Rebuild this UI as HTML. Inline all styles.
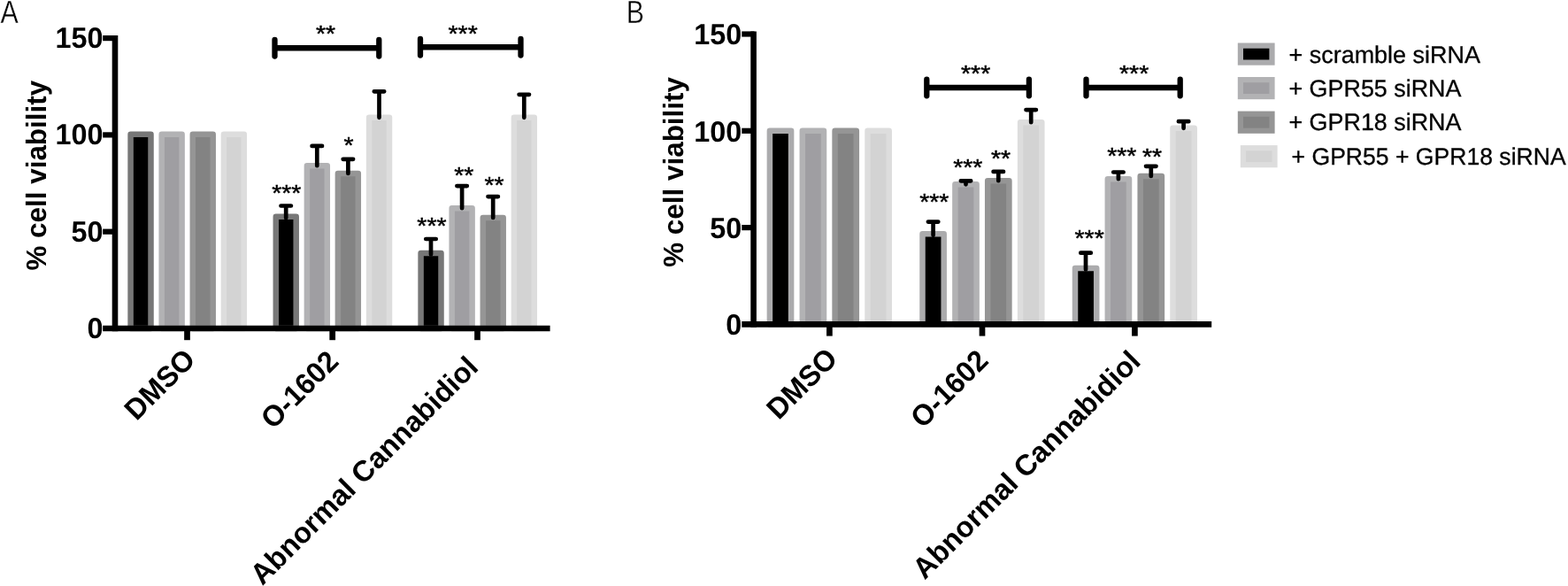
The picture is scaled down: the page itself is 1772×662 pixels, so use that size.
<!DOCTYPE html>
<html lang="en"><head><meta charset="utf-8"><title>Figure</title>
<style>html,body{margin:0;padding:0;background:#fff;}body{width:1772px;height:662px;overflow:hidden;}svg{display:block;}text{font-family:"Liberation Sans",Arial,Helvetica,sans-serif;fill:#000;text-rendering:geometricPrecision;}.b{font-weight:bold;}.s{stroke:#000;stroke-width:0.45px;}.l{stroke:#000;stroke-width:0.3px;}.p{stroke:#fff;stroke-width:0.4px;}</style>
</head><body>
<svg width="1772" height="662" viewBox="0 0 1772 662">
<rect width="1772" height="662" fill="#fff"/>
<g id="chartA">
<rect x="147.6" y="151.8" width="22.9" height="219.2" fill="#000000" stroke="#777777" stroke-width="6.5" stroke-linejoin="round"/>
<rect x="182.7" y="151.8" width="22.9" height="219.2" fill="#9f9ea2" stroke="#b2b2b4" stroke-width="6.5" stroke-linejoin="round"/>
<rect x="217.8" y="151.8" width="22.9" height="219.2" fill="#838383" stroke="#959595" stroke-width="6.5" stroke-linejoin="round"/>
<rect x="252.9" y="151.8" width="22.9" height="219.2" fill="#d3d3d3" stroke="#dddddd" stroke-width="6.5" stroke-linejoin="round"/>
<rect x="311.8" y="244.7" width="22.9" height="126.3" fill="#000000" stroke="#777777" stroke-width="6.5" stroke-linejoin="round"/>
<rect x="346.9" y="187.2" width="22.9" height="183.8" fill="#9f9ea2" stroke="#b2b2b4" stroke-width="6.5" stroke-linejoin="round"/>
<rect x="381.9" y="196.1" width="22.9" height="174.9" fill="#838383" stroke="#959595" stroke-width="6.5" stroke-linejoin="round"/>
<rect x="417.1" y="132.8" width="22.9" height="238.2" fill="#d3d3d3" stroke="#dddddd" stroke-width="6.5" stroke-linejoin="round"/>
<rect x="475.6" y="285.9" width="22.9" height="85.1" fill="#000000" stroke="#777777" stroke-width="6.5" stroke-linejoin="round"/>
<rect x="510.7" y="235.2" width="22.9" height="135.8" fill="#9f9ea2" stroke="#b2b2b4" stroke-width="6.5" stroke-linejoin="round"/>
<rect x="545.8" y="246.1" width="22.9" height="124.9" fill="#838383" stroke="#959595" stroke-width="6.5" stroke-linejoin="round"/>
<rect x="580.9" y="132.8" width="22.9" height="238.2" fill="#d3d3d3" stroke="#dddddd" stroke-width="6.5" stroke-linejoin="round"/>
<path d="M317.5 232.5H328.9M323.2 232.5V246.2" fill="none" stroke="#000" stroke-width="4.7" stroke-linecap="round"/>
<path d="M352.6 164.9H364.0M358.3 164.9V187.2" fill="none" stroke="#000" stroke-width="4.7" stroke-linecap="round"/>
<path d="M387.7 179.8H399.1M393.4 179.8V196.0" fill="none" stroke="#000" stroke-width="4.7" stroke-linecap="round"/>
<path d="M422.8 103.3H434.2M428.5 103.3V132.8" fill="none" stroke="#000" stroke-width="4.7" stroke-linecap="round"/>
<path d="M481.3 270.0H492.7M487.0 270.0V287.4" fill="none" stroke="#000" stroke-width="4.7" stroke-linecap="round"/>
<path d="M516.4 210.1H527.8M522.1 210.1V235.2" fill="none" stroke="#000" stroke-width="4.7" stroke-linecap="round"/>
<path d="M551.5 222.1H562.9M557.2 222.1V246.0" fill="none" stroke="#000" stroke-width="4.7" stroke-linecap="round"/>
<path d="M586.6 106.8H598.0M592.3 106.8V132.8" fill="none" stroke="#000" stroke-width="4.7" stroke-linecap="round"/>
<path d="M130.0 40.0V374.3" stroke="#000" stroke-width="6.6" fill="none"/>
<path d="M116.2 371.0H621.6" stroke="#000" stroke-width="6.6" fill="none"/>
<path d="M116.2 261.7H131.0" stroke="#000" stroke-width="6.2" fill="none"/>
<path d="M116.2 152.4H131.0" stroke="#000" stroke-width="6.2" fill="none"/>
<path d="M116.2 43.1H131.0" stroke="#000" stroke-width="6.2" fill="none"/>
<path d="M211.5 371.0V384.2" stroke="#000" stroke-width="6.7" fill="none"/>
<path d="M375.7 371.0V384.2" stroke="#000" stroke-width="6.7" fill="none"/>
<path d="M539.5 371.0V384.2" stroke="#000" stroke-width="6.7" fill="none"/>
<path d="M310.5 45.0V63.599999999999994M428.3 45.0V63.599999999999994" stroke="#000" stroke-width="6.3" stroke-linecap="round" fill="none"/><path d="M310.5 54.3H428.3" stroke="#000" stroke-width="6.5" fill="none"/>
<path d="M475.0 44.0V62.599999999999994M588.5 44.0V62.599999999999994" stroke="#000" stroke-width="6.3" stroke-linecap="round" fill="none"/><path d="M475.0 53.3H588.5" stroke="#000" stroke-width="6.5" fill="none"/>
</g>
<g id="chartB">
<rect x="869.9" y="147.8" width="24.2" height="218.6" fill="#000000" stroke="#ababad" stroke-width="6.5" stroke-linejoin="round"/>
<rect x="906.8" y="147.8" width="24.2" height="218.6" fill="#9f9ea2" stroke="#b2b2b4" stroke-width="6.5" stroke-linejoin="round"/>
<rect x="943.6" y="147.8" width="24.2" height="218.6" fill="#838383" stroke="#959595" stroke-width="6.5" stroke-linejoin="round"/>
<rect x="980.5" y="147.8" width="24.2" height="218.6" fill="#d3d3d3" stroke="#dddddd" stroke-width="6.5" stroke-linejoin="round"/>
<rect x="1042.5" y="264.2" width="24.2" height="102.1" fill="#000000" stroke="#ababad" stroke-width="6.5" stroke-linejoin="round"/>
<rect x="1079.4" y="208.3" width="24.2" height="158.0" fill="#9f9ea2" stroke="#b2b2b4" stroke-width="6.5" stroke-linejoin="round"/>
<rect x="1116.2" y="204.2" width="24.2" height="162.1" fill="#838383" stroke="#959595" stroke-width="6.5" stroke-linejoin="round"/>
<rect x="1153.1" y="138.2" width="24.2" height="228.1" fill="#d3d3d3" stroke="#dddddd" stroke-width="6.5" stroke-linejoin="round"/>
<rect x="1215.0" y="302.9" width="24.2" height="63.4" fill="#000000" stroke="#ababad" stroke-width="6.5" stroke-linejoin="round"/>
<rect x="1251.8" y="202.2" width="24.2" height="164.1" fill="#9f9ea2" stroke="#b2b2b4" stroke-width="6.5" stroke-linejoin="round"/>
<rect x="1288.7" y="198.9" width="24.2" height="167.4" fill="#838383" stroke="#959595" stroke-width="6.5" stroke-linejoin="round"/>
<rect x="1325.5" y="144.8" width="24.2" height="221.5" fill="#d3d3d3" stroke="#dddddd" stroke-width="6.5" stroke-linejoin="round"/>
<path d="M1048.9 250.6H1060.3M1054.6 250.6V265.8" fill="none" stroke="#000" stroke-width="4.7" stroke-linecap="round"/>
<path d="M1085.8 204.3H1097.2M1091.5 204.3V208.3" fill="none" stroke="#000" stroke-width="4.7" stroke-linecap="round"/>
<path d="M1122.6 193.9H1134.0M1128.3 193.9V204.2" fill="none" stroke="#000" stroke-width="4.7" stroke-linecap="round"/>
<path d="M1159.5 124.1H1170.9M1165.2 124.1V138.2" fill="none" stroke="#000" stroke-width="4.7" stroke-linecap="round"/>
<path d="M1221.3 285.7H1232.8M1227.0 285.7V304.5" fill="none" stroke="#000" stroke-width="4.7" stroke-linecap="round"/>
<path d="M1258.2 194.5H1269.6M1263.9 194.5V202.2" fill="none" stroke="#000" stroke-width="4.7" stroke-linecap="round"/>
<path d="M1295.0 187.8H1306.5M1300.8 187.8V198.9" fill="none" stroke="#000" stroke-width="4.7" stroke-linecap="round"/>
<path d="M1331.9 137.2H1343.3M1337.6 137.2V144.8" fill="none" stroke="#000" stroke-width="4.7" stroke-linecap="round"/>
<path d="M851.6 35.4V369.7" stroke="#000" stroke-width="6.6" fill="none"/>
<path d="M838.3 366.4H1369.2" stroke="#000" stroke-width="6.6" fill="none"/>
<path d="M838.3 257.1H852.6" stroke="#000" stroke-width="6.2" fill="none"/>
<path d="M838.3 147.8H852.6" stroke="#000" stroke-width="6.2" fill="none"/>
<path d="M838.3 38.5H852.6" stroke="#000" stroke-width="6.2" fill="none"/>
<path d="M937.4 366.4V379.6" stroke="#000" stroke-width="6.7" fill="none"/>
<path d="M1110.0 366.4V379.6" stroke="#000" stroke-width="6.7" fill="none"/>
<path d="M1282.4 366.4V379.6" stroke="#000" stroke-width="6.7" fill="none"/>
<path d="M1047.3 89.7V108.3M1162.9 89.7V108.3" stroke="#000" stroke-width="6.3" stroke-linecap="round" fill="none"/><path d="M1047.3 99.0H1162.9" stroke="#000" stroke-width="6.5" fill="none"/>
<path d="M1227.5 89.7V108.3M1333.7 89.7V108.3" stroke="#000" stroke-width="6.3" stroke-linecap="round" fill="none"/><path d="M1227.5 99.0H1333.7" stroke="#000" stroke-width="6.5" fill="none"/>
</g>
<text transform="translate(0.45,26.20) scale(0.835,1)" font-size="36.4" class="p">A</text>
<text transform="translate(707.78,26.30) scale(0.83,1)" font-size="36.4" class="p">B</text>
<text transform="translate(98.54,382.00) scale(0.98,1)" font-size="33.0" class="b">0</text>
<text transform="translate(820.24,378.10) scale(0.98,1)" font-size="33.0" class="b">0</text>
<text transform="translate(80.60,272.70) scale(0.98,1)" font-size="33.0" class="b">50</text>
<text transform="translate(802.30,268.80) scale(0.98,1)" font-size="33.0" class="b">50</text>
<text transform="translate(62.49,163.40) scale(0.98,1)" font-size="33.0" class="b">100</text>
<text transform="translate(784.19,159.50) scale(0.98,1)" font-size="33.0" class="b">100</text>
<text transform="translate(62.49,54.10) scale(0.98,1)" font-size="33.0" class="b">150</text>
<text transform="translate(784.19,50.20) scale(0.98,1)" font-size="33.0" class="b">150</text>
<text transform="translate(52.13,305.59) rotate(-90) scale(0.985,1)" font-size="31.9" class="b">% cell viability</text>
<text transform="translate(771.73,301.79) rotate(-90) scale(0.985,1)" font-size="31.9" class="b">% cell viability</text>
<text transform="translate(222.50,408.00) rotate(-45) scale(0.975,1) translate(-99.00,0)" font-size="33" class="b">DMSO</text>
<text transform="translate(384.40,410.00) rotate(-45) scale(0.975,1) translate(-110.07,0)" font-size="33" class="b">O-1602</text>
<text transform="translate(542.10,416.60) rotate(-45) scale(0.987,1) translate(-352.01,0)" font-size="33" class="b">Abnormal Cannabidiol</text>
<text transform="translate(948.30,407.00) rotate(-45) scale(0.975,1) translate(-99.00,0)" font-size="33" class="b">DMSO</text>
<text transform="translate(1118.60,409.00) rotate(-45) scale(0.975,1) translate(-110.07,0)" font-size="33" class="b">O-1602</text>
<text transform="translate(1290.70,410.00) rotate(-45) scale(0.987,1) translate(-352.01,0)" font-size="33" class="b">Abnormal Cannabidiol</text>
<text transform="translate(356.89,47.45) scale(1.08,1)" font-size="26.3" class="s">**</text>
<text transform="translate(506.55,47.45) scale(1.08,1)" font-size="26.3" class="s">***</text>
<text transform="translate(307.15,227.05) scale(1.08,1)" font-size="26.3" class="s">***</text>
<text transform="translate(388.43,172.75) scale(1.08,1)" font-size="26.3" class="s">*</text>
<text transform="translate(471.35,263.75) scale(1.08,1)" font-size="26.3" class="s">***</text>
<text transform="translate(513.19,207.25) scale(1.08,1)" font-size="26.3" class="s">**</text>
<text transform="translate(547.39,217.95) scale(1.08,1)" font-size="26.3" class="s">**</text>
<text transform="translate(1086.05,91.55) scale(1.08,1)" font-size="26.3" class="s">***</text>
<text transform="translate(1265.05,91.55) scale(1.08,1)" font-size="26.3" class="s">***</text>
<text transform="translate(1039.15,237.05) scale(1.08,1)" font-size="26.3" class="s">***</text>
<text transform="translate(1077.15,197.95) scale(1.08,1)" font-size="26.3" class="s">***</text>
<text transform="translate(1119.99,188.45) scale(1.08,1)" font-size="26.3" class="s">**</text>
<text transform="translate(1214.55,277.85) scale(1.08,1)" font-size="26.3" class="s">***</text>
<text transform="translate(1251.25,184.75) scale(1.08,1)" font-size="26.3" class="s">***</text>
<text transform="translate(1290.99,186.35) scale(1.08,1)" font-size="26.3" class="s">**</text>
<text transform="translate(1456.45,70.70) scale(1.003,1)" font-size="26.9" class="l">+ scramble siRNA</text>
<text transform="translate(1456.45,108.80) scale(1.0,1)" font-size="26.9" class="l">+ GPR55 siRNA</text>
<text transform="translate(1456.45,147.30) scale(1.0,1)" font-size="26.9" class="l">+ GPR18 siRNA</text>
<text transform="translate(1459.57,185.80) scale(0.988,1)" font-size="26.9" class="l">+ GPR55 + GPR18 siRNA</text>
<rect x="1401.8999999999999" y="51.6" width="35.599999999999994" height="19.0" fill="#000000" stroke="#ababad" stroke-width="6.2"/>
<rect x="1401.8999999999999" y="90.1" width="35.599999999999994" height="19.0" fill="#9f9ea2" stroke="#b2b2b4" stroke-width="6.2"/>
<rect x="1401.8999999999999" y="128.7" width="35.599999999999994" height="19.0" fill="#838383" stroke="#959595" stroke-width="6.2"/>
<rect x="1404.8999999999999" y="167.2" width="35.599999999999994" height="19.0" fill="#d3d3d3" stroke="#dddddd" stroke-width="6.2"/>
</svg>
</body></html>
